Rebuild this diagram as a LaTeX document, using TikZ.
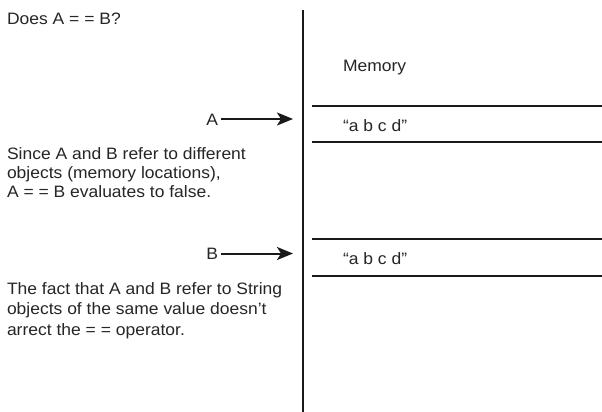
\documentclass[tikz,border=0pt]{standalone}
\usepackage{fontspec}
\setmainfont[FakeStretch=1.06]{Liberation Sans}
\usetikzlibrary{arrows.meta}
\begin{document}
\begin{tikzpicture}[x=1pt,y=-1pt,
  txt/.style={inner sep=0pt,outer sep=0pt,text=black!85,font=\fontsize{16.5}{19}\selectfont},
  txtb/.style={txt,font=\fontsize{16.5}{20.5}\selectfont},
  rule/.style={line width=2pt,draw=black!90},
  ptr/.style={line width=2pt,draw=black!90,-{Stealth[length=16pt,width=13pt,inset=4pt]}}]
\useasboundingbox[fill=white] (0,0) rectangle (602,412);
% texts
\node[txt,anchor=base west] (q) at (7,25) {Does A = = B?};
\node[txt,anchor=base west,align=left] (since) at (7,197.5) {Since A and B refer to different\\objects (memory locations),\\A = = B evaluates to false.};
\node[txtb,anchor=base west,align=left] (fact) at (7,335) {The fact that A and B refer to String\\objects of the same value doesn't\\arrect the = = operator.};
\node[txt,anchor=base west] (mem) at (343,71) {Memory};
\node[txt,anchor=base west] (s1) at (343,131) {“a b c d”};
\node[txt,anchor=base west] (s2) at (343,264) {“a b c d”};
\node[txt,anchor=base east] (A) at (218,125) {A};
\node[txt,anchor=base east] (B) at (218,259) {B};
% structure
\coordinate (vtop) at (303,10);
\coordinate (vbot) at (303,412);
\draw[rule] (vtop) -- (vbot);
\coordinate (l1a) at (312,105.5); \coordinate (l1b) at (602,105.5);
\coordinate (l2a) at (312,141.5); \coordinate (l2b) at (602,141.5);
\coordinate (l3a) at (312,239); \coordinate (l3b) at (602,239);
\coordinate (l4a) at (312,275.5); \coordinate (l4b) at (602,275.5);
\draw[rule] (l1a) -- (l1b);
\draw[rule] (l2a) -- (l2b);
\draw[rule] (l3a) -- (l3b);
\draw[rule] (l4a) -- (l4b);
% pointers
\coordinate (pa) at (293,119);
\coordinate (pb) at (293,253.5);
\draw[ptr] (A.east |- pa) ++(3,0) -- (pa);
\draw[ptr] (B.east |- pb) ++(3,0) -- (pb);
\end{tikzpicture}
\end{document}
